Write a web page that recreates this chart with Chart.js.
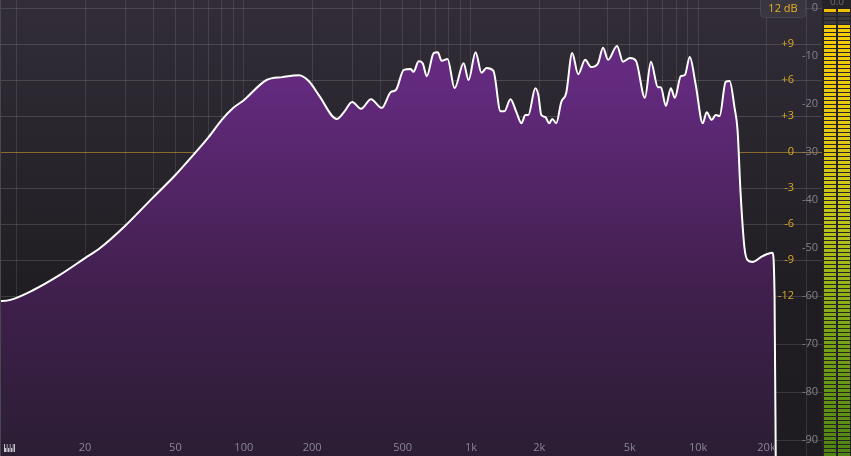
<!DOCTYPE html>
<html><head><meta charset="utf-8">
<script src="https://cdn.jsdelivr.net/npm/chart.js@4/dist/chart.umd.min.js"></script>
<style>html,body{margin:0;padding:0;background:#1f1d22;overflow:hidden}#wrap{width:851px;height:456px;position:relative}</style>
</head><body><div id="wrap"><canvas id="c" width="851" height="456"></canvas></div>
<script>
// Spectrum (Hz, dB)
const freqs = [8.3,9.4,11.8,15.5,20,23.3,30,40,50,60,70,80,90,100,126,148,175,194,215,257,276,300,328,363,405,444,467,506,543,558,589,613,639,685,714,743,789,847,928,976,1048,1113,1170,1256,1349,1404,1492,1585,1667,1736,1789,1920,1980,2040,2124,2212,2280,2374,2497,2626,2790,2965,3182,3381,3627,3815,4013,4395,4669,5012,5324,5833,6197,6651,6855,7211,7584,7896,8389,8735,9188,9760,10475,10907,11474,11946,12435,13218,13760,14469,14916,15375,16000,16500,17360,19200,21250,21700,22000];
const levels = [-61.1,-60.8,-58.8,-55.6,-52.1,-50.0,-45.4,-39.4,-34.8,-30.6,-26.9,-23.3,-20.8,-19.2,-15.0,-14.4,-14.0,-15.3,-18.3,-23.1,-21.7,-19.6,-21.0,-19.0,-20.8,-17.5,-17.1,-12.9,-12.7,-13.3,-11.1,-11.5,-14.2,-9.4,-9.2,-11.0,-10.6,-16.7,-11.5,-15.0,-9.2,-13.5,-12.5,-13.1,-21.5,-21.5,-19.0,-21.7,-24.0,-22.3,-22.3,-16.7,-18.1,-22.3,-22.7,-24.0,-23.1,-24.0,-19.6,-17.7,-9.4,-13.8,-10.8,-12.3,-11.5,-8.3,-10.8,-7.9,-11.2,-10.4,-11.0,-18.7,-11.2,-16.5,-16.5,-20.4,-16.7,-18.7,-14.2,-14.0,-10.2,-16.0,-24.0,-21.7,-23.3,-22.3,-22.5,-15.4,-15.2,-20.8,-25.5,-38.5,-50.0,-52.5,-52.9,-51.7,-51.0,-60,-100];

const gridFreqs = [10,20,30,40,50,60,70,80,90,100,200,300,400,500,600,700,800,900,1000,2000,3000,4000,5000,6000,7000,8000,9000,10000,20000,30000];
const freqTickValues = [20,50,100,200,500,1000,2000,5000,10000,20000];
const freqTickLabels = ["20","50","100","200","500","1k","2k","5k","10k","20k"];
const eqTicks = [9,6,3,0,-3,-6,-9,-12];
const eqTickLabels = ["+9","+6","+3","0","-3","-6","-9","-12"];
const specTicks = [0,-10,-20,-30,-40,-50,-60,-70,-80,-90];
const specTickLabels = ["0","-10","-20","-30","-40","-50","-60","-70","-80","-90"];
const specGridExtra = [0,-70,-80,-90];
const meterLevels = [-3.5,-3.5];
const meterPeaks = [-0.3,-0.3];
const rangeLabel = "12 dB";
const meterReadout = "0.0";

const FONT = '"Open Sans", "DejaVu Sans", sans-serif';

const bgPlugin = {
  id: 'bg',
  beforeDraw(chart) {
    const {ctx, chartArea: ca} = chart;
    ctx.save();
    ctx.fillStyle = '#232126';
    ctx.fillRect(0, 0, chart.width, chart.height);
    const g = ctx.createLinearGradient(0, ca.top, 0, ca.bottom);
    g.addColorStop(0, '#322d38');
    g.addColorStop(0.65, '#1f1d22');
    g.addColorStop(1, '#1e1c21');
    ctx.fillStyle = g;
    ctx.fillRect(ca.left, ca.top, ca.right - ca.left, ca.bottom - ca.top);
    ctx.restore();
  }
};

function lerpColor(stops, p) {
  for (let i = 1; i < stops.length; i++) {
    if (p <= stops[i][0]) {
      const a = stops[i-1], b = stops[i];
      const t = (p - a[0]) / (b[0] - a[0]);
      const c = [0,1,2].map(k => Math.round(a[1][k] + (b[1][k] - a[1][k]) * t));
      return `rgb(${c[0]},${c[1]},${c[2]})`;
    }
  }
  const l = stops[stops.length-1][1];
  return `rgb(${l[0]},${l[1]},${l[2]})`;
}

const overlayPlugin = {
  id: 'overlay',
  afterDraw(chart) {
    const {ctx, chartArea: ca} = chart;
    const xs = chart.scales.x, ys = chart.scales.y, ye = chart.scales.yEq;
    ctx.save();
    // left border
    ctx.fillStyle = '#4a4750';
    ctx.fillRect(0, 0, 1, chart.height);
    // frequency labels
    ctx.font = '11px ' + FONT;
    ctx.fillStyle = '#8a8692';
    ctx.textAlign = 'center';
    ctx.textBaseline = 'middle';
    freqTickValues.forEach((f, i) => {
      ctx.fillText(freqTickLabels[i], xs.getPixelForValue(f), 448);
    });
    // EQ labels
    ctx.textAlign = 'right';
    ctx.fillStyle = '#dca822';
    eqTicks.forEach((v, i) => {
      ctx.fillText(eqTickLabels[i], 794, ye.getPixelForValue(v));
    });
    // spectrum labels
    ctx.fillStyle = '#85818c';
    specTicks.forEach((v, i) => {
      ctx.fillText(specTickLabels[i], 818, ys.getPixelForValue(v));
    });
    // range button
    ctx.beginPath();
    ctx.roundRect(760.5, -4.5, 45, 22, 4);
    ctx.fillStyle = '#3a3640';
    ctx.fill();
    ctx.strokeStyle = '#48444e';
    ctx.lineWidth = 1;
    ctx.stroke();
    ctx.fillStyle = '#e6b422';
    ctx.textAlign = 'center';
    ctx.fillText(rangeLabel, 783, 8.5);
    // piano icon
    ctx.fillStyle = '#c8c4cc';
    ctx.fillRect(4, 444, 11, 8);
    ctx.fillStyle = '#2a2430';
    [6.5, 9.5, 12.5].forEach(x => ctx.fillRect(x, 444, 1, 8));
    ctx.fillStyle = '#2a2430';
    [5, 8, 11].forEach(x => ctx.fillRect(x, 444, 1.5, 4));
    // meter
    const mx0 = ca.right;
    ctx.fillStyle = '#252327';
    ctx.fillRect(mx0, 0, chart.width - mx0, chart.height);
    const cols = [[824, 12], [838, 12]];
    const stops = [[0,[246,202,0]],[0.25,[228,200,18]],[0.45,[190,196,24]],[0.7,[125,168,20]],[1,[78,132,16]]];
    cols.forEach(([cx, cw], ci) => {
      const lvl = ys.getPixelForValue(meterLevels[ci]);
      for (let t = 13; t < chart.height; t += 4) {
        if (t >= lvl) {
          ctx.fillStyle = lerpColor(stops, (t - 25) / (chart.height - 25));
        } else {
          ctx.fillStyle = '#3b393e';
        }
        ctx.fillRect(cx, t, cw, 3);
      }
      const pk = ys.getPixelForValue(meterPeaks[ci]);
      ctx.fillStyle = '#f0c000';
      ctx.fillRect(cx, Math.round(pk), cw, 3);
    });
    ctx.font = '10px ' + FONT;
    ctx.fillStyle = '#6e6b72';
    ctx.textAlign = 'center';
    ctx.textBaseline = 'alphabetic';
    ctx.fillText(meterReadout, 837, 5);
    ctx.restore();
  }
};

const ctxEl = document.getElementById('c');
new Chart(ctxEl, {
  type: 'line',
  data: {
    datasets: [{
      data: freqs.map((f, i) => ({x: f, y: levels[i]})),
      borderColor: '#ffffff',
      borderWidth: 2,
      pointRadius: 0,
      cubicInterpolationMode: 'monotone',
      fill: 'start',
      backgroundColor: (c) => {
        const ca = c.chart.chartArea;
        if (!ca) return '#4a2360';
        const g = c.chart.ctx.createLinearGradient(0, ca.top, 0, ca.bottom);
        g.addColorStop(0, '#6a2e87');
        g.addColorStop(0.2, '#62297c');
        g.addColorStop(0.45, '#4f2461');
        g.addColorStop(0.65, '#3f1f4c');
        g.addColorStop(1, '#2b1e34');
        return g;
      }
    }]
  },
  options: {
    responsive: false,
    animation: false,
    devicePixelRatio: 1,
    layout: {padding: {left: 0, right: 29, top: 0, bottom: 0}},
    plugins: {legend: {display: false}, tooltip: {enabled: false}},
    scales: {
      x: {
        type: 'logarithmic',
        min: 8.45,
        max: 35100,
        z: 1,
        afterBuildTicks: (s) => { s.ticks = gridFreqs.map(v => ({value: v})); },
        ticks: {display: false},
        grid: {drawTicks: false, color: 'rgba(255,255,255,0.10)', lineWidth: 1},
        border: {display: false}
      },
      y: {
        type: 'linear',
        min: -93.333,
        max: 1.667,
        z: 1,
        afterBuildTicks: (s) => { s.ticks = specGridExtra.map(v => ({value: v})); },
        ticks: {display: false},
        grid: {drawTicks: false, color: 'rgba(255,255,255,0.12)'},
        border: {display: false}
      },
      yEq: {
        type: 'linear',
        position: 'right',
        min: -25.3333,
        max: 12.6667,
        z: 1,
        afterBuildTicks: (s) => { s.ticks = eqTicks.map(v => ({value: v})); },
        ticks: {display: false},
        grid: {drawTicks: false, color: (c) => c.tick && c.tick.value === 0 ? 'rgba(215,165,50,0.55)' : 'rgba(255,255,255,0.14)'},
        border: {display: false}
      }
    }
  },
  plugins: [bgPlugin, overlayPlugin]
});
</script>
</body></html>
